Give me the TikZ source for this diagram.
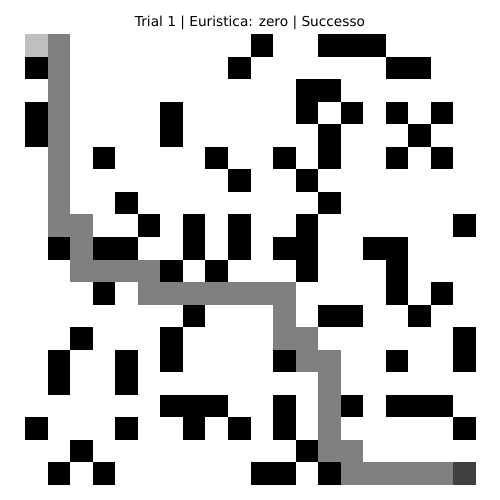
\documentclass[tikz,border=0pt]{standalone}
\usepackage{fontspec}
\newfontfamily\titlefont{DejaVu Sans}
\usepackage{tikz}
\definecolor{startgray}{gray}{0.75}
\definecolor{pathgray}{gray}{0.5}
\definecolor{goalgray}{gray}{0.25}
\tikzset{wall/.style={fill=black}, route/.style={fill=pathgray}}

\begin{document}
\begin{tikzpicture}[x=22.55pt,y=-22.55pt]
\useasboundingbox (-25pt,34pt) rectangle (475pt,-466pt);
\node[anchor=base, inner sep=0pt, font=\titlefont\fontsize{13.7}{16}\selectfont] (title) at (225pt,7.3pt) {Trial 1 | Euristica: zero | Successo}; %title
% obstacles
\foreach \c/\r in {10/0,13/0,14/0,15/0, 0/1,9/1,16/1,17/1, 12/2,13/2,
    0/3,6/3,12/3,14/3,16/3,18/3, 0/4,6/4,13/4,17/4,
    3/5,8/5,11/5,13/5,16/5,18/5, 9/6,12/6, 4/7,13/7,
    5/8,7/8,9/8,12/8,19/8, 1/9,3/9,4/9,7/9,9/9,11/9,12/9,15/9,16/9,
    6/10,8/10,12/10,16/10, 3/11,16/11,18/11, 7/12,13/12,14/12,17/12,
    2/13,6/13,19/13, 1/14,4/14,6/14,11/14,16/14,19/14, 1/15,4/15,
    6/16,7/16,8/16,11/16,14/16,16/16,17/16,18/16,
    0/17,4/17,7/17,9/17,11/17,19/17, 2/18,12/18, 1/19,3/19,10/19,11/19,13/19}
  \fill[wall] (\c,\r) rectangle ++(1,1);
% path
\foreach \c/\r in {1/0,1/1,1/2,1/3,1/4,1/5,1/6,1/7,1/8,2/8,2/9,
    2/10,3/10,4/10,5/10, 5/11,6/11,7/11,8/11,9/11,10/11,11/11,
    11/12,11/13,12/13,12/14,13/14,13/15,13/16,13/17,13/18,14/18,
    14/19,15/19,16/19,17/19,18/19}
  \fill[route] (\c,\r) rectangle ++(1,1);
\fill[fill=startgray] (0,0) rectangle (1,1); %start
\fill[fill=goalgray] (19,19) rectangle (20,20); %goal
\end{tikzpicture}
\end{document}
